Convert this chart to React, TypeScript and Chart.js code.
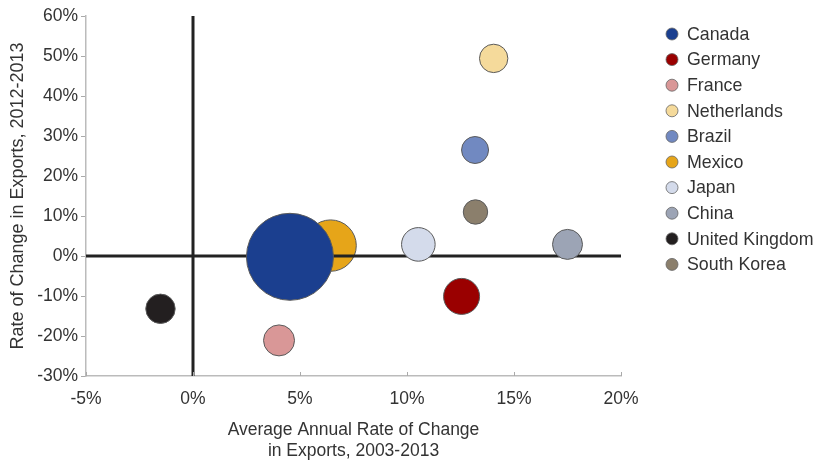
import React, { useEffect, useRef } from "react";
import { Chart, registerables } from "chart.js";

Chart.register(...registerables);

// Exporting partners: 10-year average growth vs. last-year change, bubble = export volume
const countries = [
  "Canada",
  "Germany",
  "France",
  "Netherlands",
  "Brazil",
  "Mexico",
  "Japan",
  "China",
  "United Kingdom",
  "South Korea",
];
const avgAnnualChange = [4.53, 12.55, 4.02, 14.05, 13.18, 6.43, 10.53, 17.5, -1.52, 13.2];
const changeLastYear = [-0.2, -10.1, -21.1, 49.4, 26.5, 2.6, 2.9, 2.9, -13.2, 11.0];
const bubbleRadius = [44, 18.5, 16, 14.7, 14, 26.2, 17.3, 15.5, 15.2, 12.7];
const colors = [
  "#1b3f8f",
  "#9a0000",
  "#d99797",
  "#f5da9b",
  "#7189c1",
  "#e6a519",
  "#d4dbeb",
  "#9ca4b5",
  "#231f20",
  "#8b7f6c",
];
const xTickValues = [-5, 0, 5, 10, 15, 20];
const yTickValues = [-30, -20, -10, 0, 10, 20, 30, 40, 50, 60];

const FONT = "'Liberation Sans', Arial, Helvetica, sans-serif";
const TEXT = "#333333";
const SIZE = 17.5;

// Heavy cross-hairs at x = 0 and y = 0; painted right after Mexico so the
// remaining bubbles sit on top of them.
const zeroLines = {
  id: "zeroLines",
  afterDatasetDraw(chart: any, args: any) {
    if (chart.data.datasets[args.index].label !== "Mexico") return;
    const { ctx, chartArea } = chart;
    const xs = chart.scales.x;
    const ys = chart.scales.y;
    const x0 = xs.getPixelForValue(0);
    const y0 = ys.getPixelForValue(0);
    ctx.save();
    ctx.strokeStyle = "#222222";
    ctx.lineWidth = 3;
    ctx.beginPath();
    ctx.moveTo(chartArea.left, y0);
    ctx.lineTo(chartArea.right, y0);
    ctx.moveTo(x0, chartArea.top);
    ctx.lineTo(x0, chartArea.bottom);
    ctx.stroke();
    ctx.restore();
  },
};

// Short inward tick marks on the horizontal axis
const xInnerTicks = {
  id: "xInnerTicks",
  afterDatasetsDraw(chart: any) {
    const { ctx, chartArea } = chart;
    const xs = chart.scales.x;
    ctx.save();
    ctx.strokeStyle = "#aaaaaa";
    ctx.lineWidth = 1;
    ctx.beginPath();
    xTickValues.forEach((v) => {
      const px = Math.round(xs.getPixelForValue(v)) + 0.5;
      ctx.moveTo(px, chartArea.bottom);
      ctx.lineTo(px, chartArea.bottom - 4);
    });
    ctx.stroke();
    ctx.restore();
  },
};

// Country key on the right
const countryKey = {
  id: "countryKey",
  afterDraw(chart: any) {
    const { ctx } = chart;
    const markerX = 672;
    const textX = 687;
    const top = 34;
    const step = 25.6;
    ctx.save();
    ctx.font = `17.8px ${FONT}`;
    ctx.textBaseline = "middle";
    ctx.textAlign = "left";
    chart.data.datasets.forEach((ds: any, i: number) => {
      const y = top + i * step;
      ctx.beginPath();
      ctx.arc(markerX, y, 6, 0, Math.PI * 2);
      ctx.fillStyle = ds.backgroundColor;
      ctx.fill();
      ctx.lineWidth = 0.8;
      ctx.strokeStyle = "#666666";
      ctx.stroke();
      ctx.fillStyle = TEXT;
      ctx.fillText(ds.label, textX, y + 1);
    });
    ctx.restore();
  },
};

export default function App() {
  const canvasRef = useRef<HTMLCanvasElement | null>(null);

  useEffect(() => {
    document.body.style.margin = "0";
    const canvas = canvasRef.current;
    if (!canvas) return;

    const datasets = countries.map((name, i) => ({
      label: name,
      data: [{ x: avgAnnualChange[i], y: changeLastYear[i], r: bubbleRadius[i] - 0.5 }],
      backgroundColor: colors[i],
      borderColor: "#5a5a5a",
      borderWidth: 1,
      order: name === "Mexico" ? 2 : 1,
    }));

    const chart = new Chart(canvas, {
      type: "bubble",
      data: { datasets },
      plugins: [zeroLines, xInnerTicks, countryKey],
      options: {
        responsive: false,
        animation: false,
        events: [],
        layout: { autoPadding: false, padding: { top: 16, right: 194, left: 0, bottom: 0 } },
        font: { family: FONT, size: SIZE },
        plugins: {
          legend: { display: false },
          tooltip: { enabled: false },
        },
        scales: {
          x: {
            type: "linear",
            min: -5,
            max: 20,
            afterBuildTicks: (scale: any) => {
              scale.ticks = xTickValues.map((v) => ({ value: v }));
            },
            afterFit: (scale: any) => {
              scale.height = 88;
              scale.paddingLeft = 0;
              scale.paddingRight = 0;
            },
            grid: { display: true, drawOnChartArea: false, drawTicks: false },
            border: { display: true, color: "#bbbbbb", width: 1.5 },
            ticks: {
              padding: 13,
              color: TEXT,
              font: { family: FONT, size: SIZE },
              callback: (v: any) => `${v}%`,
            },
            title: {
              display: true,
              text: ["Average Annual Rate of Change", "in Exports, 2003-2013"],
              color: TEXT,
              font: { family: FONT, size: SIZE, lineHeight: 1.2 },
              padding: { top: 0, bottom: 2.5 },
            },
          },
          y: {
            type: "linear",
            min: -30,
            max: 60,
            afterBuildTicks: (scale: any) => {
              scale.ticks = yTickValues.map((v) => ({ value: v }));
            },
            afterFit: (scale: any) => {
              scale.width = 86;
              scale.paddingTop = 0;
              scale.paddingBottom = 0;
            },
            grid: {
              display: true,
              drawOnChartArea: false,
              drawTicks: true,
              tickLength: 5,
              color: "#aaaaaa",
            },
            border: { display: true, color: "#bbbbbb", width: 1.5 },
            ticks: {
              padding: 3,
              color: TEXT,
              font: { family: FONT, size: SIZE },
              callback: (v: any) => `${v}%`,
            },
            title: {
              display: true,
              text: "Rate of Change in Exports, 2012-2013",
              color: TEXT,
              font: { family: FONT, size: 18, lineHeight: 1.2 },
              padding: { top: 7.5, bottom: 0 },
            },
          },
        },
      },
    });

    return () => chart.destroy();
  }, []);

  return (
    <div style={{ width: 815, height: 464 }}>
      <canvas ref={canvasRef} width={815} height={464} />
    </div>
  );
}
